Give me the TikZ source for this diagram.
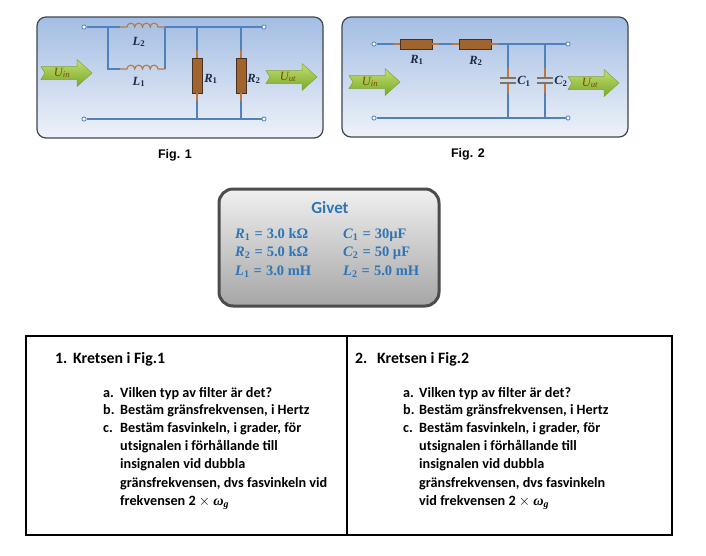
\documentclass[tikz,border=0pt]{standalone}
\usepackage{amsmath}
\usepackage{fontspec}
\newfontfamily\calibri{Carlito}
\newfontfamily\arialf{Liberation Sans}
\newfontfamily\serifb{Liberation Serif}
\definecolor{wireblue}{HTML}{4F81BD}
\definecolor{leadbrown}{HTML}{B9783F}
\definecolor{resbrown}{HTML}{A0652F}
\definecolor{resedge}{HTML}{4A3020}
\definecolor{panelTop}{HTML}{A3BDE3}
\definecolor{panelBot}{HTML}{EEF2F9}
\definecolor{panelEdge}{HTML}{3F4650}
\definecolor{arrowTop}{HTML}{C3DE6E}
\definecolor{arrowMid}{HTML}{E4F1AE}
\definecolor{arrowBot}{HTML}{78A82A}
\definecolor{arrowEdge}{HTML}{7FA33A}
\definecolor{utext}{HTML}{7A4A05}
\definecolor{labelcol}{HTML}{1F2A44}
\definecolor{givetblue}{HTML}{2E75B6}
\definecolor{platecol}{HTML}{7D7468}
\newcommand{\vsym}[2]{{\serifb\bfseries\itshape #1}{\serifb\bfseries\textsubscript{#2}}}
\newcommand{\omg}{{\serifb\bfseries\itshape ω\textsubscript{g}}}
\newcommand{\eqs}{\hspace{0.28em}=\hspace{0.28em}}
\begin{document}
\begin{tikzpicture}[x=1pt,y=-1pt,
  wire/.style={draw=wireblue, line width=1.1pt},
  lead/.style={draw=leadbrown, line width=1.1pt},
  plate/.style={draw=platecol, line width=1.3pt},
  term/.style={circle, draw=wireblue, fill=white, inner sep=0pt, minimum size=4.2pt, line width=0.8pt},
  vres/.style={rectangle, draw=resedge, fill=resbrown, line width=0.8pt, minimum width=10pt, minimum height=35pt, inner sep=0pt},
  hres/.style={rectangle, draw=resedge, fill=resbrown, line width=0.8pt, minimum width=32pt, minimum height=10pt, inner sep=0pt},
  panel/.style={rounded corners=9pt, draw=panelEdge, line width=1.2pt, top color=panelTop, bottom color=panelBot},
  complabel/.style={font=\serifb\fontsize{12.5}{14}\selectfont, text=labelcol, inner sep=0pt},
  arrowlabel/.style={font=\serifb\itshape\fontsize{12.5}{14}\selectfont, text=utext, inner sep=0pt},
  figlabel/.style={font=\arialf\bfseries\fontsize{12.5}{14}\selectfont, inner sep=0pt},
  givetval/.style={font=\serifb\bfseries\fontsize{14.5}{16}\selectfont, text=givetblue, anchor=base west, inner sep=0pt},
  bodytext/.style={font=\calibri\bfseries\fontsize{14.2}{17}\selectfont, anchor=base west, inner sep=0pt},
  headtext/.style={font=\calibri\bfseries\fontsize{15.8}{18}\selectfont, anchor=base west, inner sep=0pt},
  coil/.pic={\draw[lead] (0,0) -- (7,0)
      arc[start angle=180,end angle=360,radius=3.875]
      arc[start angle=180,end angle=360,radius=3.875]
      arc[start angle=180,end angle=360,radius=3.875]
      arc[start angle=180,end angle=360,radius=3.875] -- (45,0);},
  sigarrow/.pic={\shade[top color=arrowTop, middle color=arrowMid, bottom color=arrowBot, draw=arrowEdge, line width=0.5pt]
      (0,-6.5) -- (36,-6.5) -- (36,-13.5) -- (51,0) -- (36,13.5) -- (36,6.5) -- (0,6.5) -- (4,0) -- cycle;}
]
\useasboundingbox (0,0) rectangle (706,555);
\fill[white] (0,0) rectangle (706,555);

% ================= Fig. 1 =================
\draw[panel] (37,17) rectangle (323,138);
\node[term] (t1tl) at (84,27) {};
\node[term] (t1tr) at (264,27) {};
\node[term] (t1bl) at (84,119) {};
\node[term] (t1br) at (264,119) {};
\coordinate (j1a) at (108,27);
\coordinate (j1b) at (108,69);
\coordinate (l2a) at (120,27);
\coordinate (l2b) at (165,27);
\coordinate (l1a) at (120,69);
\coordinate (l1b) at (165,69);
\coordinate (r1t) at (197,27);
\coordinate (r1b) at (197,119);
\coordinate (r2t) at (241,27);
\coordinate (r2b) at (241,119);
\node[vres] (R1a) at (197,75.5) {};
\node[vres] (R2a) at (241,75.5) {};
\draw[wire] (t1tl) -- (j1a) -- (l2a);
\draw[wire] (l2b) -- (r1t) -- (r2t) -- (t1tr);
\draw[wire] (j1a) -- (j1b) -- (l1a);
\draw[wire] (l1b) -- (l2b);
\pic at (l2a) {coil};
\pic at (l1a) {coil};
\draw[wire] (r1t) -- (R1a.north);
\draw[wire] (R1a.south) -- (r1b);
\draw[wire] (r2t) -- (R2a.north);
\draw[wire] (R2a.south) -- (r2b);
\draw[lead] (R1a.north) -- ++(0,-8);
\draw[lead] (R1a.south) -- ++(0,8);
\draw[lead] (R2a.north) -- ++(0,-8);
\draw[lead] (R2a.south) -- ++(0,8);
\draw[wire] (t1bl) -- (r1b) -- (r2b) -- (t1br);
\node[complabel] (labL2) at (139,42) {\vsym{L}{2}};
\node[complabel] (labL1) at (139,82) {\vsym{L}{1}};
\node[complabel] (labR1a) at (211,79) {\vsym{R}{1}};
\node[complabel] (labR2a) at (254,79) {\vsym{R}{2}};
\pic at (41,73) {sigarrow};
\node[arrowlabel] (uin1) at (62,73) {U\textsubscript{in}};
\pic at (266,77) {sigarrow};
\node[arrowlabel] (uut1) at (288,77) {U\textsubscript{ut}};
\node[figlabel] (fig1) at (175,155) {Fig. 1};

% ================= Fig. 2 =================
\draw[panel] (342,17) rectangle (628,137);
\node[term] (t2tl) at (374,44) {};
\node[term] (t2tr) at (568,44) {};
\node[term] (t2bl) at (374,118) {};
\node[term] (t2br) at (568,118) {};
\node[hres] (R1b) at (416,44) {};
\node[hres] (R2b) at (475,44) {};
\coordinate (c1t) at (508,44);
\coordinate (c1b) at (508,118);
\coordinate (c2t) at (545,44);
\coordinate (c2b) at (545,118);
\coordinate (c1p) at (508,78);
\coordinate (c1q) at (508,83);
\coordinate (c2p) at (545,78);
\coordinate (c2q) at (545,83);
\draw[wire] (t2tl) -- (R1b.west);
\draw[wire] (R1b.east) -- (R2b.west);
\draw[wire] (R2b.east) -- (c1t) -- (c2t) -- (t2tr);
\draw[lead] (R1b.west) -- ++(-7,0);
\draw[lead] (R1b.east) -- ++(7,0);
\draw[lead] (R2b.west) -- ++(-7,0);
\draw[lead] (R2b.east) -- ++(7,0);
\draw[wire] (c1t) -- (c1p);
\draw[wire] (c1q) -- (c1b);
\draw[wire] (c2t) -- (c2p);
\draw[wire] (c2q) -- (c2b);
\draw[lead] (c1p) -- ++(0,-10);
\draw[lead] (c1q) -- ++(0,10);
\draw[lead] (c2p) -- ++(0,-10);
\draw[lead] (c2q) -- ++(0,10);
\draw[plate] ([xshift=-8pt]c1p) -- ([xshift=8pt]c1p);
\draw[plate] ([xshift=-8pt]c1q) -- ([xshift=8pt]c1q);
\draw[plate] ([xshift=-8pt]c2p) -- ([xshift=8pt]c2p);
\draw[plate] ([xshift=-8pt]c2q) -- ([xshift=8pt]c2q);
\draw[wire] (t2bl) -- (c1b) -- (c2b) -- (t2br);
\node[complabel] (labR1b) at (417,60) {\vsym{R}{1}};
\node[complabel] (labR2b) at (476,61) {\vsym{R}{2}};
\node[complabel] (labC1) at (524,81) {\vsym{C}{1}};
\node[complabel] (labC2) at (561,81) {\vsym{C}{2}};
\pic at (349,82) {sigarrow};
\node[arrowlabel] (uin2) at (370,82) {U\textsubscript{in}};
\pic at (568,83) {sigarrow};
\node[arrowlabel] (uut2) at (590,83) {U\textsubscript{ut}};
\node[figlabel] (fig2) at (468,154) {Fig. 2};

% ================= Givet =================
\node[rectangle, rounded corners=14pt, draw=black!70, line width=3pt,
      top color=black!6, bottom color=black!35,
      minimum width=220pt, minimum height=117pt] (givet) at (329,247.5) {};
\node[font=\calibri\bfseries\fontsize{17}{20}\selectfont, text=givetblue, anchor=base, inner sep=0pt] (givettitle) at (330,213) {Givet};
\node[givetval] (gR1) at (235,238) {\vsym{R}{1}\eqs 3.0 kΩ};
\node[givetval] (gR2) at (235,256) {\vsym{R}{2}\eqs 5.0 kΩ};
\node[givetval] (gL1) at (235,275) {\vsym{L}{1}\eqs 3.0 mH};
\node[givetval] (gC1) at (343,238) {\vsym{C}{1}\eqs 30µF};
\node[givetval] (gC2) at (343,256) {\vsym{C}{2}\eqs 50 µF};
\node[givetval] (gL2) at (343,275) {\vsym{L}{2}\eqs 5.0 mH};

% ================= Table =================
\draw[line width=1.2pt] (26,336) rectangle (672,535);
\draw[line width=1.2pt] (347,336) -- (347,535);

\node[headtext] (h1n) at (55,363) {1.};
\node[headtext] (h1t) at (73,363) {Kretsen i Fig.1};
\node[bodytext] (a1l) at (103,397) {a.};
\node[bodytext] (a1t) at (120,397) {Vilken typ av filter är det?};
\node[bodytext] (b1l) at (103,414) {b.};
\node[bodytext] (b1t) at (120,414) {Bestäm gränsfrekvensen, i Hertz};
\node[bodytext] (c1l) at (103,432) {c.};
\node[bodytext] (c1t1) at (120,432) {Bestäm fasvinkeln, i grader, för};
\node[bodytext] (c1t2) at (120,450) {utsignalen i förhållande till};
\node[bodytext] (c1t3) at (120,468.5) {insignalen vid dubbla};
\node[bodytext] (c1t4) at (120,487) {gränsfrekvensen, dvs fasvinkeln vid};
\node[bodytext] (c1t5) at (120,505) {frekvensen 2 $\times$ \omg};

\node[headtext] (h2n) at (355,363) {2.};
\node[headtext] (h2t) at (377,363) {Kretsen i Fig.2};
\node[bodytext] (a2l) at (403,397) {a.};
\node[bodytext] (a2t) at (419,397) {Vilken typ av filter är det?};
\node[bodytext] (b2l) at (403,414) {b.};
\node[bodytext] (b2t) at (419,414) {Bestäm gränsfrekvensen, i Hertz};
\node[bodytext] (c2l) at (403,432) {c.};
\node[bodytext] (c2t1) at (419,432) {Bestäm fasvinkeln, i grader, för};
\node[bodytext] (c2t2) at (419,450) {utsignalen i förhållande till};
\node[bodytext] (c2t3) at (419,468.5) {insignalen vid dubbla};
\node[bodytext] (c2t4) at (419,487) {gränsfrekvensen, dvs fasvinkeln};
\node[bodytext] (c2t5) at (419,505) {vid frekvensen 2 $\times$ \omg};
\end{tikzpicture}
\end{document}
